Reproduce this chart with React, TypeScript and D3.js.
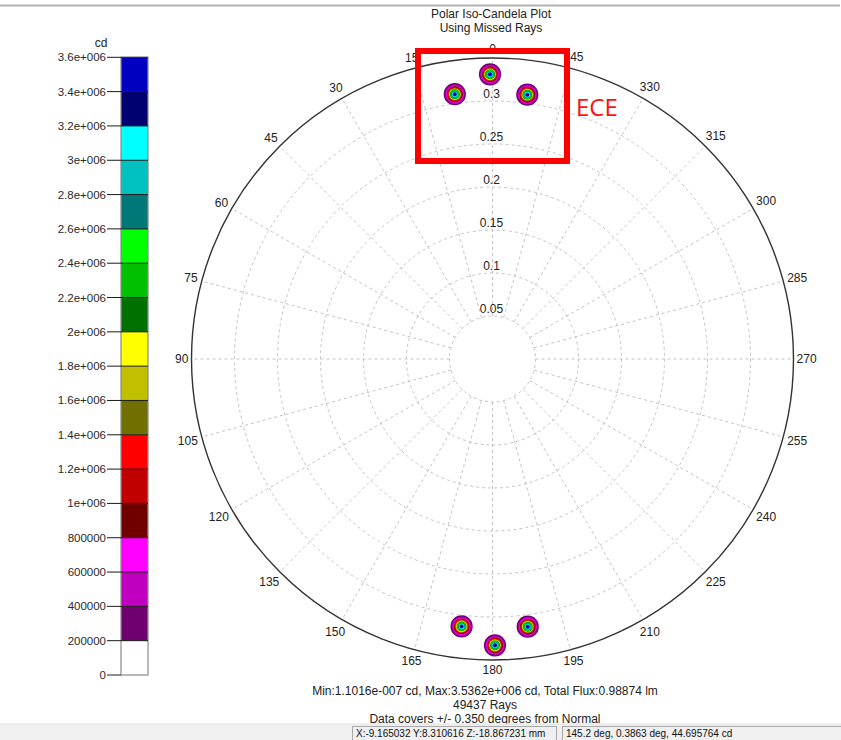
import React from 'react';
import * as d3 from 'd3';

// Polar grid: azimuth ticks (deg, counter-clockwise from top) and radial rings (deg from normal)
const azimuthTicks = [0, 15, 30, 45, 60, 75, 90, 105, 120, 135, 150, 165, 180, 195, 210, 225, 240, 255, 270, 285, 300, 315, 330, 345];
const ringTicks = [0.05, 0.1, 0.15, 0.2, 0.25, 0.3];
const ringLabels = ['0.05', '0.1', '0.15', '0.2', '0.25', '0.3'];
const maxPolar = 0.35;

// Candela colour scale
const levelValues = [0, 200000, 400000, 600000, 800000, 1000000, 1200000, 1400000, 1600000, 1800000, 2000000, 2200000, 2400000, 2600000, 2800000, 3000000, 3200000, 3400000, 3600000];
const levelLabels = ['0', '200000', '400000', '600000', '800000', '1e+006', '1.2e+006', '1.4e+006', '1.6e+006', '1.8e+006', '2e+006', '2.2e+006', '2.4e+006', '2.6e+006', '2.8e+006', '3e+006', '3.2e+006', '3.4e+006', '3.6e+006'];
const bandColors = ['#ffffff', '#700070', '#c000c0', '#ff00ff', '#700000', '#c00000', '#ff0000', '#707000', '#c0c000', '#ffff00', '#007000', '#00c000', '#00ff00', '#007878', '#00c0c0', '#00ffff', '#000070', '#0000c0'];

// Intensity spots: azimuth (deg), polar angle (deg), peak intensity (cd)
const spotAzimuth = [0.5, 8.1, 352.5, 173.4, 180.5, 187.5];
const spotPolar = [0.331, 0.311, 0.31, 0.313, 0.333, 0.314];
const spotPeak = [3.5362e6, 3.49e6, 3.5e6, 3.48e6, 3.52e6, 3.5e6];
const spotSigma = 0.0054; // gaussian width, deg

const titleLines = ['Polar Iso-Candela Plot', 'Using Missed Rays'];
const footerLines = ['Min:1.1016e-007 cd, Max:3.5362e+006 cd, Total Flux:0.98874 lm', '49437 Rays', 'Data covers +/- 0.350 degrees from Normal'];
const statusTexts = ['X:-9.165032 Y:8.310616 Z:-18.867231 mm', '145.2 deg, 0.3863 deg, 44.695764 cd'];

const FONT = '"Liberation Sans", Arial, sans-serif';

export default function App() {
  const cx = 492.5;
  const cy = 359;
  const R = 301;
  const rScale = d3.scaleLinear().domain([0, maxPolar]).range([0, R]);
  const toXY = (az: number, r: number): [number, number] => {
    const a = (az * Math.PI) / 180;
    return [cx - r * Math.sin(a), cy - r * Math.cos(a)];
  };

  const barX = 121;
  const barW = 27;
  const yBar = d3.scaleLinear().domain([0, 3600000]).range([675, 57.3]);

  const innerR = rScale(ringTicks[0]);
  const sigmaPx = rScale(spotSigma);

  return (
    <svg width={841} height={740} style={{ position: 'absolute', left: 0, top: 0, background: '#fff' }} fontFamily={FONT}>
      <defs>
        <filter id="soft" x="-20%" y="-20%" width="140%" height="140%">
          <feGaussianBlur stdDeviation={0.55} />
        </filter>
      </defs>
      <rect x={0} y={0} width={841} height={740} fill="#fff" />
      <line x1={0} x2={840} y1={5.5} y2={5.5} stroke="#b4b4b4" strokeWidth={2} />

      {/* title */}
      {titleLines.map((t, i) => (
        <text key={t} x={491} y={18 + i * 14} fontSize={12} textAnchor="middle" fill="#222">{t}</text>
      ))}

      {/* colour bar */}
      <text x={101} y={47} fontSize={12} textAnchor="middle" fill="#222">cd</text>
      {bandColors.map((c, i) => (
        <rect key={i} x={barX} y={yBar(levelValues[i + 1])} width={barW} height={yBar(levelValues[i]) - yBar(levelValues[i + 1])} fill={c} />
      ))}
      <rect x={barX} y={yBar(3600000)} width={barW} height={yBar(0) - yBar(3600000)} fill="none" stroke="#8a8a8a" strokeWidth={1.2} />
      {levelValues.map((v, i) => (
        <g key={v}>
          <line x1={107} x2={i === 0 ? barX : barX + barW} y1={yBar(v)} y2={yBar(v)} stroke="#1a1a1a" strokeWidth={1} />
          <text x={106} y={yBar(v) + 4} fontSize={11.5} textAnchor="end" fill="#2a2a2a">{levelLabels[i]}</text>
        </g>
      ))}

      {/* polar grid */}
      {ringTicks.map((t) => (
        <circle key={t} cx={cx} cy={cy} r={rScale(t)} fill="none" stroke="#c4c4c4" strokeWidth={1} strokeDasharray="3,3" />
      ))}
      {azimuthTicks.map((az) => {
        const [x1, y1] = toXY(az, innerR);
        const [x2, y2] = toXY(az, R);
        return <line key={az} x1={x1} y1={y1} x2={x2} y2={y2} stroke="#c4c4c4" strokeWidth={1} strokeDasharray="3,3" />;
      })}
      <circle cx={cx} cy={cy} r={R} fill="none" stroke="#333" strokeWidth={1.4} />

      {/* ring labels */}
      {ringTicks.map((t, i) => (
        <text key={t} x={cx - 1} y={cy - rScale(t) - 3} fontSize={12} textAnchor="middle" fill="#222">{ringLabels[i]}</text>
      ))}

      {/* azimuth labels */}
      {azimuthTicks.map((az) => {
        const s = String(az);
        const w = s.length * 6.7;
        const a = (az * Math.PI) / 180;
        const off = 3 + Math.abs(Math.sin(a)) * (w / 2) + Math.abs(Math.cos(a)) * 6.5;
        const [x, y] = toXY(az, R + off);
        return <text key={az} x={x} y={y + 4.2} fontSize={12} textAnchor="middle" fill="#222">{s}</text>;
      })}

      {/* iso-candela spots */}
      <g filter="url(#soft)">
        {spotAzimuth.map((az, i) => {
          const [x, y] = toXY(az, rScale(spotPolar[i]));
          const peak = spotPeak[i];
          return (
            <g key={i}>
              {levelValues.slice(1, -1).map((lv, k) => {
                if (peak <= lv) return null;
                const r = sigmaPx * Math.sqrt(2 * Math.log(peak / lv));
                return <circle key={k} cx={x} cy={y} r={r} fill={bandColors[k + 1]} />;
              })}
            </g>
          );
        })}
      </g>

      {/* footer */}
      {footerLines.map((t, i) => (
        <text key={t} x={485} y={695 + i * 14} fontSize={12} textAnchor="middle" fill="#222">{t}</text>
      ))}

      {/* status bar */}
      <rect x={0} y={724} width={841} height={16} fill="#f0f0f0" />
      <line x1={0} x2={841} y1={724} y2={724} stroke="#e2e2e2" />
      <rect x={352.5} y={726.5} width={204} height={14} fill="#f0f0f0" stroke="#a8a8a8" />
      <rect x={562.5} y={726.5} width={280} height={14} fill="#f0f0f0" stroke="#a8a8a8" />
      <text x={356} y={737} fontSize={10} fill="#111">{statusTexts[0]}</text>
      <text x={566} y={737} fontSize={10} fill="#111">{statusTexts[1]}</text>

      {/* highlight */}
      <rect x={418} y={51} width={149} height={110} fill="none" stroke="#ff0000" strokeWidth={6} />
      <text x={576} y={116} fontSize={24} fill="#ff1010" fontFamily='"Open Sans", "Noto Sans", sans-serif'>ECE</text>
    </svg>
  );
}
